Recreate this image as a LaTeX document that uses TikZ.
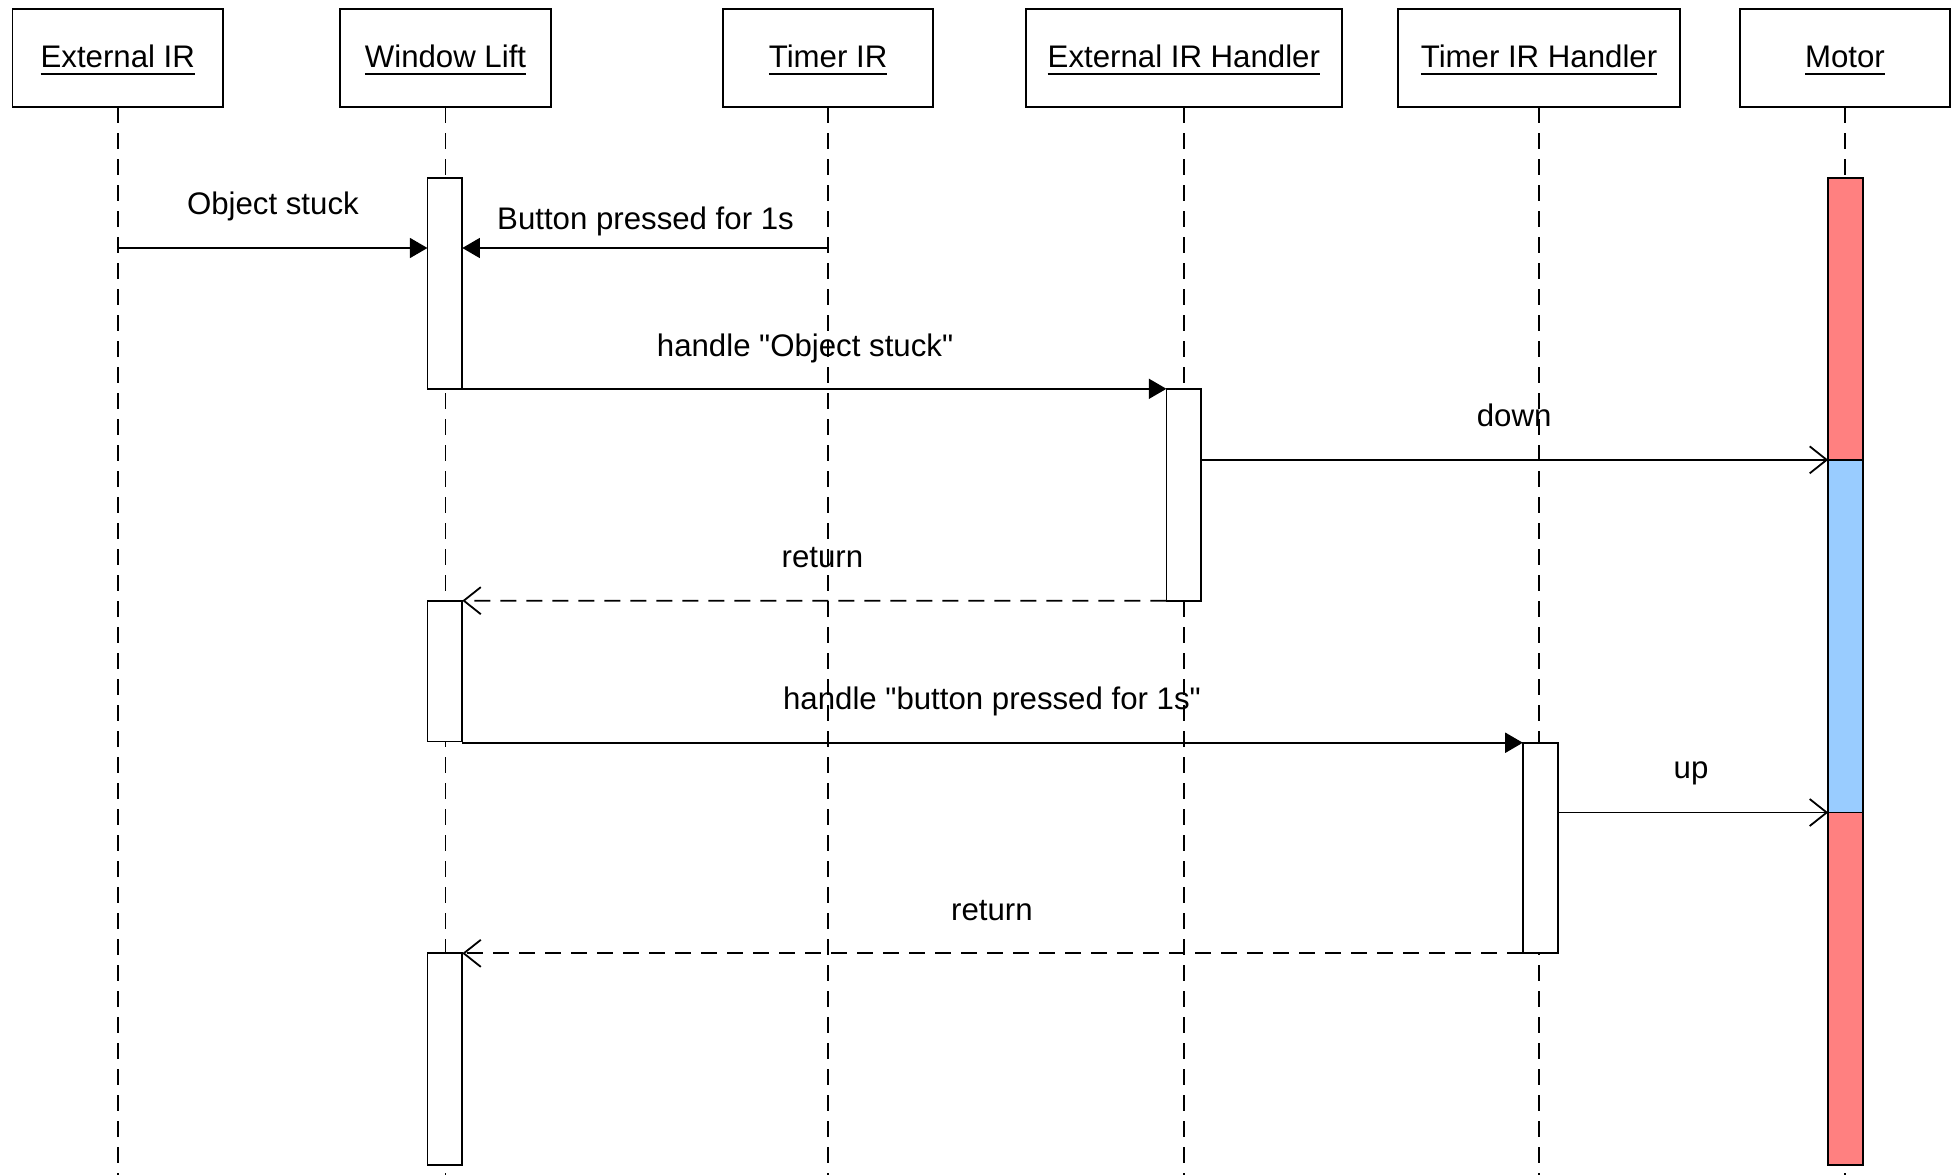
\documentclass[tikz,border=0pt]{standalone}
\usepackage{fontspec}
\setmainfont{Liberation Sans}[Ligatures=TeXOff]
\usetikzlibrary{arrows.meta,fit}
\definecolor{motred}{HTML}{FF8080}
\definecolor{motblue}{HTML}{99CCFF}
% underlined participant name with the rule a little below the baseline
\newcommand\hdrul[1]{\setbox0=\hbox{#1}\rlap{\rule[-3.6pt]{\wd0}{0.75pt}}\box0}
\newcommand\qq{\symbol{34}}
\tikzset{
  base/.style={line width=0.9pt},
  hdr/.style={base, draw, fill=white, inner sep=0pt, outer sep=0pt},
  act/.style={base, draw, fill=white, inner sep=0pt, outer sep=0pt},
  mact/.style={base, draw, inner sep=0pt, outer sep=0pt},
  life/.style={base, dash pattern=on 8pt off 5pt},
  call/.style={base, -{Triangle[length=8.8pt,width=10pt]}},
  sig/.style={base, -{Straight Barb[length=8.5pt,width=13.5pt]}},
  ret/.style={base, dash pattern=on 8pt off 5pt, -{Straight Barb[length=8.5pt,width=13.5pt]}},
  lbl/.style={inner sep=0pt, anchor=base, font=\fontsize{15.6}{18}\selectfont}
}
\begin{document}
\begin{tikzpicture}[x=0.623pt, y=-0.623pt]
\useasboundingbox (0,0) rectangle (1568,943);
\fill[white] (0,0) rectangle (1568,943);

% participants
\node[hdr, fit={(10,7) (179,86)}] (hExt) {};
\node[hdr, fit={(273,7) (442,86)}] (hWin) {};
\node[hdr, fit={(580,7) (749,86)}] (hTim) {};
\node[hdr, fit={(823,7) (1077,86)}] (hEH) {};
\node[hdr, fit={(1122,7) (1348,86)}] (hTH) {};
\node[hdr, fit={(1396,7) (1565,86)}] (hMot) {};
\node[lbl] (tExt) at (hExt.center |- 0,54) {\hdrul{External IR}};
\node[lbl] (tWin) at (hWin.center |- 0,54) {\hdrul{Window Lift}};
\node[lbl] (tTim) at (hTim.center |- 0,54) {\hdrul{Timer IR}};
\node[lbl] (tEH) at (hEH.center |- 0,54) {\hdrul{External IR Handler}};
\node[lbl] (tTH) at (hTH.center |- 0,54) {\hdrul{Timer IR Handler}};
\node[lbl] (tMot) at (hMot.center |- 0,54) {\hdrul{Motor}};

% lifelines
\coordinate (bottom) at (0,943);
\foreach \p in {hExt,hWin,hTim,hEH,hTH,hMot}
  \draw[life] (\p.south) -- (\p.south |- bottom);

% activations
\node[act, fit={(343,143) (371,312)}] (aW1) {};
\node[act, fit={(343,482) (371,595)}] (aW2) {};
\node[act, fit={(343,765) (371,935)}] (aW3) {};
\node[act, fit={(936,312) (964,482)}] (aEH) {};
\node[act, fit={(1222,596) (1250,765)}] (aTH) {};
\node[mact, fill=motred, fit={(1467,143) (1495,369)}] (aM1) {};
\node[mact, fill=motblue, fit={(1467,369) (1495,652)}] (aM2) {};
\node[mact, fill=motred, fit={(1467,652) (1495,935)}] (aM3) {};

% messages
\coordinate (m1) at (hExt.south |- 0,199);
\draw[call] (m1) -- (aW1.west |- m1);
\node[lbl] (l1) at (219,172) {Object stuck};

\coordinate (m2) at (hTim.south |- 0,199);
\draw[call] (m2) -- (aW1.east |- m2);
\node[lbl] (l2) at (518,184.5) {Button pressed for 1s};

\draw[call] (aW1.south east) -- (aEH.north west);
\node[lbl] (l3) at (646,286) {handle \qq Object stuck\qq};

\coordinate (m4) at (aEH.east |- aM2.north);
\draw[sig] (m4) -- (aM2.north west);
\node[lbl] (l4) at (1215,342) {down};

\draw[ret] (aEH.south west) -- (aW2.north east);
\node[lbl] (l5) at (660,455) {return};

\draw[call] (aW2.south east |- aTH.north) -- (aTH.north west);
\node[lbl] (l6) at (796,569) {handle \qq button pressed for 1s\qq};

\coordinate (m7) at (aTH.east |- aM3.north);
\draw[sig] (m7) -- (aM3.north west);
\node[lbl] (l7) at (1357,625) {up};

\draw[ret] (aTH.south west) -- (aW3.north east);
\node[lbl] (l8) at (796,739) {return};
\end{tikzpicture}
\end{document}
